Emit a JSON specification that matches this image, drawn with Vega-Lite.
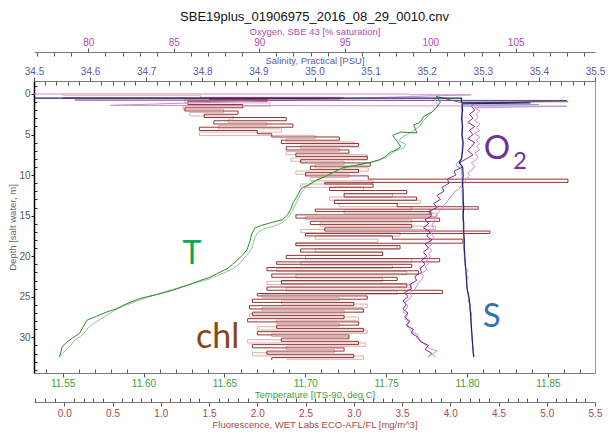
{
  "$schema": "https://vega.github.io/schema/vega-lite/v6.json",
  "width": 561,
  "height": 292,
  "autosize": {"type": "none"},
  "padding": {"left": 34, "top": 81, "right": 17, "bottom": 66},
  "background": "white",
  "title": {
    "text": "SBE19plus_01906975_2016_08_29_0010.cnv",
    "font": "Liberation Sans",
    "fontSize": 13,
    "fontWeight": "normal",
    "color": "#111111",
    "anchor": "middle",
    "offset": 2
  },
  "config": {
    "view": {"stroke": "#9a9a9a", "strokeWidth": 1},
    "axis": {
      "grid": false,
      "labelFont": "Liberation Sans",
      "labelFontSize": 10,
      "titleFont": "Liberation Sans",
      "titleFontSize": 9.5,
      "titleFontWeight": "normal",
      "domainColor": "#777777",
      "tickColor": "#555555",
      "labelOverlap": false,
      "labelFlush": false,
      "labelPadding": 1,
      "titlePadding": 1
    }
  },
  "datasets": {
    "sal_dn": [
      {"depth": 0.5, "sal": 34.2}, {"depth": 0.5, "sal": 35.262}, {"depth": 1.05, "sal": 35.262}, {"depth": 1.1, "sal": 35.385},
      {"depth": 1.2, "sal": 35.263}, {"depth": 2, "sal": 35.264}, {"depth": 3, "sal": 35.262}, {"depth": 4, "sal": 35.264},
      {"depth": 5, "sal": 35.263}, {"depth": 6, "sal": 35.265}, {"depth": 7, "sal": 35.264}, {"depth": 8, "sal": 35.262},
      {"depth": 8.5, "sal": 35.258}, {"depth": 9, "sal": 35.264}, {"depth": 10, "sal": 35.265}, {"depth": 11, "sal": 35.264},
      {"depth": 12, "sal": 35.265}, {"depth": 13, "sal": 35.265}, {"depth": 14, "sal": 35.266}, {"depth": 15, "sal": 35.265},
      {"depth": 16, "sal": 35.266}, {"depth": 17, "sal": 35.266}, {"depth": 18, "sal": 35.267}, {"depth": 19, "sal": 35.267},
      {"depth": 20, "sal": 35.268}, {"depth": 21, "sal": 35.269}, {"depth": 22, "sal": 35.27}, {"depth": 23, "sal": 35.271},
      {"depth": 24, "sal": 35.272}, {"depth": 25, "sal": 35.275}, {"depth": 26, "sal": 35.277}, {"depth": 27, "sal": 35.278},
      {"depth": 28, "sal": 35.279}, {"depth": 29, "sal": 35.28}, {"depth": 30, "sal": 35.281}, {"depth": 31, "sal": 35.282},
      {"depth": 32, "sal": 35.283}, {"depth": 32.4, "sal": 35.284}
    ],
    "sal_up": [
      {"depth": 32.4, "sal": 35.284}, {"depth": 31.5, "sal": 35.283}, {"depth": 30.5, "sal": 35.281}, {"depth": 29.5, "sal": 35.28},
      {"depth": 28.5, "sal": 35.279}, {"depth": 27.5, "sal": 35.279}, {"depth": 27, "sal": 35.28}, {"depth": 26.5, "sal": 35.276},
      {"depth": 26, "sal": 35.278}, {"depth": 25.5, "sal": 35.274}, {"depth": 25, "sal": 35.275}, {"depth": 24, "sal": 35.272},
      {"depth": 23, "sal": 35.271}, {"depth": 22.6, "sal": 35.274}, {"depth": 22.2, "sal": 35.27}, {"depth": 21.8, "sal": 35.273},
      {"depth": 21.4, "sal": 35.269}, {"depth": 21, "sal": 35.268}, {"depth": 20, "sal": 35.267}, {"depth": 19, "sal": 35.266},
      {"depth": 18, "sal": 35.266}, {"depth": 17, "sal": 35.265}, {"depth": 16, "sal": 35.265}, {"depth": 15, "sal": 35.264},
      {"depth": 14, "sal": 35.264}, {"depth": 13, "sal": 35.264}, {"depth": 12, "sal": 35.263}, {"depth": 11, "sal": 35.263},
      {"depth": 10, "sal": 35.263}, {"depth": 9.2, "sal": 35.262}, {"depth": 8.8, "sal": 35.252}, {"depth": 8.4, "sal": 35.255},
      {"depth": 8, "sal": 35.262}, {"depth": 7, "sal": 35.263}, {"depth": 6, "sal": 35.264}, {"depth": 5, "sal": 35.262},
      {"depth": 4, "sal": 35.263}, {"depth": 3, "sal": 35.264}, {"depth": 2, "sal": 35.262}, {"depth": 1.5, "sal": 35.263},
      {"depth": 1.3, "sal": 35.4}, {"depth": 1.25, "sal": 35.262}
    ],
    "oxy_dn": [
      {"depth": 0.75, "oxy": 79.2}, {"depth": 0.8, "oxy": 108.0}, {"depth": 1.2, "oxy": 102.6}, {"depth": 1.5, "oxy": 102.4},
      {"depth": 2, "oxy": 102.6}, {"depth": 2.5, "oxy": 102.3}, {"depth": 3, "oxy": 102.5}, {"depth": 3.5, "oxy": 102.2},
      {"depth": 4, "oxy": 102.6}, {"depth": 4.5, "oxy": 102.3}, {"depth": 5, "oxy": 102.5}, {"depth": 5.5, "oxy": 102.2},
      {"depth": 6, "oxy": 102.6}, {"depth": 6.5, "oxy": 102.4}, {"depth": 7, "oxy": 102.2}, {"depth": 7.5, "oxy": 102.5},
      {"depth": 8, "oxy": 102.1}, {"depth": 8.5, "oxy": 101.7}, {"depth": 9, "oxy": 101.9}, {"depth": 9.5, "oxy": 101.4},
      {"depth": 10, "oxy": 101.5}, {"depth": 10.5, "oxy": 101.0}, {"depth": 11, "oxy": 101.1}, {"depth": 11.5, "oxy": 100.7},
      {"depth": 12, "oxy": 100.8}, {"depth": 12.5, "oxy": 100.4}, {"depth": 13, "oxy": 100.6}, {"depth": 13.5, "oxy": 100.2},
      {"depth": 14, "oxy": 100.4}, {"depth": 14.5, "oxy": 99.9}, {"depth": 15, "oxy": 100.1}, {"depth": 15.5, "oxy": 99.7},
      {"depth": 16, "oxy": 99.9}, {"depth": 16.5, "oxy": 99.6}, {"depth": 17, "oxy": 100.0}, {"depth": 17.5, "oxy": 99.8},
      {"depth": 18, "oxy": 100.1}, {"depth": 18.5, "oxy": 99.7}, {"depth": 19, "oxy": 99.9}, {"depth": 19.5, "oxy": 99.6},
      {"depth": 20, "oxy": 99.8}, {"depth": 20.5, "oxy": 99.5}, {"depth": 21, "oxy": 99.7}, {"depth": 21.5, "oxy": 99.4},
      {"depth": 22, "oxy": 99.5}, {"depth": 22.5, "oxy": 99.1}, {"depth": 23, "oxy": 99.2}, {"depth": 23.5, "oxy": 98.8},
      {"depth": 24, "oxy": 98.9}, {"depth": 24.5, "oxy": 98.5}, {"depth": 25, "oxy": 98.7}, {"depth": 25.5, "oxy": 98.4},
      {"depth": 26, "oxy": 98.6}, {"depth": 26.5, "oxy": 98.4}, {"depth": 27, "oxy": 98.7}, {"depth": 27.5, "oxy": 98.5},
      {"depth": 28, "oxy": 98.8}, {"depth": 28.5, "oxy": 98.6}, {"depth": 29, "oxy": 99.0}, {"depth": 29.5, "oxy": 98.9},
      {"depth": 30, "oxy": 99.3}, {"depth": 30.5, "oxy": 99.4}, {"depth": 31, "oxy": 99.9}, {"depth": 31.5, "oxy": 99.7},
      {"depth": 32, "oxy": 100.1}, {"depth": 32.4, "oxy": 99.9}
    ],
    "oxy_up": [
      {"depth": 32.4, "oxy": 100.3}, {"depth": 32.1, "oxy": 100.1}, {"depth": 31.7, "oxy": 100.4}, {"depth": 31.3, "oxy": 99.9},
      {"depth": 30.9, "oxy": 99.7}, {"depth": 30.5, "oxy": 99.5}, {"depth": 30.1, "oxy": 99.2}, {"depth": 29.7, "oxy": 99.3},
      {"depth": 29.3, "oxy": 98.9}, {"depth": 28.9, "oxy": 98.8}, {"depth": 28.5, "oxy": 98.6}, {"depth": 28.1, "oxy": 98.8},
      {"depth": 27.7, "oxy": 98.5}, {"depth": 27.3, "oxy": 98.7}, {"depth": 26.9, "oxy": 98.4}, {"depth": 26.5, "oxy": 98.6},
      {"depth": 26.1, "oxy": 98.7}, {"depth": 25.7, "oxy": 98.5}, {"depth": 25.3, "oxy": 98.8}, {"depth": 24.9, "oxy": 98.9},
      {"depth": 24.5, "oxy": 98.8}, {"depth": 24.1, "oxy": 99.1}, {"depth": 23.7, "oxy": 99.2}, {"depth": 23.3, "oxy": 99.3},
      {"depth": 22.9, "oxy": 99.5}, {"depth": 22.5, "oxy": 99.6}, {"depth": 22.1, "oxy": 99.5}, {"depth": 21.7, "oxy": 99.8},
      {"depth": 21.3, "oxy": 99.7}, {"depth": 20.9, "oxy": 99.9}, {"depth": 20.5, "oxy": 99.8}, {"depth": 20.1, "oxy": 100.0},
      {"depth": 19.7, "oxy": 99.9}, {"depth": 19.3, "oxy": 100.1}, {"depth": 18.9, "oxy": 99.9}, {"depth": 18.5, "oxy": 100.1},
      {"depth": 18.1, "oxy": 100.0}, {"depth": 17.7, "oxy": 100.2}, {"depth": 17.3, "oxy": 100.1}, {"depth": 16.9, "oxy": 100.0},
      {"depth": 16.5, "oxy": 100.2}, {"depth": 16.1, "oxy": 100.1}, {"depth": 15.7, "oxy": 100.3}, {"depth": 15.3, "oxy": 100.2},
      {"depth": 14.9, "oxy": 100.4}, {"depth": 14.5, "oxy": 100.5}, {"depth": 14.1, "oxy": 100.7}, {"depth": 13.7, "oxy": 100.8},
      {"depth": 13.3, "oxy": 101.0}, {"depth": 12.9, "oxy": 101.1}, {"depth": 12.5, "oxy": 101.3}, {"depth": 12.1, "oxy": 101.4},
      {"depth": 11.7, "oxy": 101.7}, {"depth": 11.3, "oxy": 101.8}, {"depth": 10.9, "oxy": 102.0}, {"depth": 10.5, "oxy": 102.1},
      {"depth": 10.1, "oxy": 102.3}, {"depth": 9.7, "oxy": 102.2}, {"depth": 9.3, "oxy": 102.5}, {"depth": 8.9, "oxy": 102.6},
      {"depth": 8.5, "oxy": 102.4}, {"depth": 8.1, "oxy": 102.7}, {"depth": 7.7, "oxy": 102.8}, {"depth": 7.3, "oxy": 102.6},
      {"depth": 6.9, "oxy": 102.9}, {"depth": 6.5, "oxy": 102.7}, {"depth": 6.1, "oxy": 102.9}, {"depth": 5.7, "oxy": 102.7},
      {"depth": 5.3, "oxy": 102.9}, {"depth": 4.9, "oxy": 102.6}, {"depth": 4.5, "oxy": 102.9}, {"depth": 4.1, "oxy": 102.7},
      {"depth": 3.7, "oxy": 102.9}, {"depth": 3.3, "oxy": 102.6}, {"depth": 2.9, "oxy": 102.8}, {"depth": 2.5, "oxy": 102.7},
      {"depth": 2.1, "oxy": 102.9}, {"depth": 1.7, "oxy": 102.6}, {"depth": 1.5, "oxy": 108.0}, {"depth": 1.4, "oxy": 81.3},
      {"depth": 0.1, "oxy": 102.4}, {"depth": 0.1, "oxy": 98.8}, {"depth": 0.0, "oxy": 98.8}, {"depth": 0.0, "oxy": 76.0}
    ],
    "temp_dn": [
      {"depth": 0.95, "temp": 11.8625}, {"depth": 1.0, "temp": 11.795}, {"depth": 0.3, "temp": 11.781}, {"depth": 1.0, "temp": 11.7835},
      {"depth": 1.6, "temp": 11.7815}, {"depth": 2.2, "temp": 11.7785}, {"depth": 2.8, "temp": 11.773}, {"depth": 3.2, "temp": 11.772},
      {"depth": 3.6, "temp": 11.77}, {"depth": 3.8, "temp": 11.767}, {"depth": 4.3, "temp": 11.768}, {"depth": 4.8, "temp": 11.769},
      {"depth": 4.7, "temp": 11.759}, {"depth": 5.1, "temp": 11.754}, {"depth": 5.5, "temp": 11.7555}, {"depth": 5.9, "temp": 11.757},
      {"depth": 6.5, "temp": 11.759}, {"depth": 6.9, "temp": 11.756}, {"depth": 7.2, "temp": 11.7525}, {"depth": 7.8, "temp": 11.749},
      {"depth": 8.1, "temp": 11.746}, {"depth": 8.4, "temp": 11.741}, {"depth": 8.8, "temp": 11.731}, {"depth": 9.1, "temp": 11.723},
      {"depth": 9.4, "temp": 11.72}, {"depth": 9.7, "temp": 11.717}, {"depth": 10.2, "temp": 11.712}, {"depth": 10.6, "temp": 11.707},
      {"depth": 11.2, "temp": 11.702}, {"depth": 11.5, "temp": 11.699}, {"depth": 11.8, "temp": 11.697}, {"depth": 12.6, "temp": 11.695},
      {"depth": 13.4, "temp": 11.6925}, {"depth": 14.2, "temp": 11.691}, {"depth": 14.9, "temp": 11.689}, {"depth": 15.5, "temp": 11.686},
      {"depth": 15.8, "temp": 11.68}, {"depth": 16.2, "temp": 11.673}, {"depth": 16.5, "temp": 11.669}, {"depth": 17.2, "temp": 11.667},
      {"depth": 18.0, "temp": 11.666}, {"depth": 18.6, "temp": 11.665}, {"depth": 19.2, "temp": 11.664}, {"depth": 19.9, "temp": 11.661},
      {"depth": 20.5, "temp": 11.658}, {"depth": 21.0, "temp": 11.655}, {"depth": 21.5, "temp": 11.652}, {"depth": 22.2, "temp": 11.645},
      {"depth": 22.6, "temp": 11.641}, {"depth": 23.0, "temp": 11.635}, {"depth": 23.6, "temp": 11.627}, {"depth": 24.2, "temp": 11.618},
      {"depth": 24.7, "temp": 11.609}, {"depth": 25.2, "temp": 11.598}, {"depth": 25.6, "temp": 11.593}, {"depth": 26.0, "temp": 11.588},
      {"depth": 26.5, "temp": 11.583}, {"depth": 26.9, "temp": 11.577}, {"depth": 27.4, "temp": 11.571}, {"depth": 27.9, "temp": 11.565},
      {"depth": 28.6, "temp": 11.563}, {"depth": 29.5, "temp": 11.5605}, {"depth": 30.1, "temp": 11.556}, {"depth": 30.6, "temp": 11.5525},
      {"depth": 31.2, "temp": 11.5495}, {"depth": 31.8, "temp": 11.549}, {"depth": 32.4, "temp": 11.548}
    ],
    "temp_up": [
      {"depth": 32.4, "temp": 11.5485}, {"depth": 32.0, "temp": 11.55}, {"depth": 31.6, "temp": 11.552}, {"depth": 31.0, "temp": 11.555},
      {"depth": 30.4, "temp": 11.557}, {"depth": 29.9, "temp": 11.561}, {"depth": 29.3, "temp": 11.564}, {"depth": 28.8, "temp": 11.566},
      {"depth": 28.3, "temp": 11.569}, {"depth": 27.8, "temp": 11.573}, {"depth": 27.2, "temp": 11.578}, {"depth": 26.7, "temp": 11.582},
      {"depth": 26.2, "temp": 11.587}, {"depth": 25.6, "temp": 11.595}, {"depth": 25.0, "temp": 11.603}, {"depth": 24.4, "temp": 11.613},
      {"depth": 23.8, "temp": 11.623}, {"depth": 23.3, "temp": 11.632}, {"depth": 22.8, "temp": 11.641}, {"depth": 22.2, "temp": 11.648},
      {"depth": 21.6, "temp": 11.655}, {"depth": 21.0, "temp": 11.659}, {"depth": 20.3, "temp": 11.662}, {"depth": 19.6, "temp": 11.665},
      {"depth": 19.0, "temp": 11.667}, {"depth": 18.3, "temp": 11.668}, {"depth": 17.6, "temp": 11.669}, {"depth": 17.0, "temp": 11.671},
      {"depth": 16.6, "temp": 11.675}, {"depth": 16.2, "temp": 11.682}, {"depth": 15.7, "temp": 11.687}, {"depth": 15.1, "temp": 11.69},
      {"depth": 14.4, "temp": 11.692}, {"depth": 13.6, "temp": 11.694}, {"depth": 12.8, "temp": 11.696}, {"depth": 12.0, "temp": 11.698},
      {"depth": 11.4, "temp": 11.701}, {"depth": 10.9, "temp": 11.705}, {"depth": 10.3, "temp": 11.711}, {"depth": 9.8, "temp": 11.716},
      {"depth": 9.3, "temp": 11.722}, {"depth": 8.9, "temp": 11.729}, {"depth": 8.6, "temp": 11.737}, {"depth": 8.2, "temp": 11.745},
      {"depth": 7.7, "temp": 11.751}, {"depth": 7.1, "temp": 11.755}, {"depth": 6.6, "temp": 11.761}, {"depth": 6.2, "temp": 11.762},
      {"depth": 5.8, "temp": 11.758}, {"depth": 5.3, "temp": 11.76}, {"depth": 4.9, "temp": 11.764}, {"depth": 4.4, "temp": 11.768},
      {"depth": 3.9, "temp": 11.771}, {"depth": 3.3, "temp": 11.773}, {"depth": 2.7, "temp": 11.776}, {"depth": 2.1, "temp": 11.779},
      {"depth": 1.5, "temp": 11.782}, {"depth": 1.0, "temp": 11.781}, {"depth": 0.6, "temp": 11.78}, {"depth": 0.2, "temp": 11.782}
    ],
    "fl_dn": [
      {"depth": 0.5, "fl": -0.02}, {"depth": 0.55, "fl": 2.9}, {"depth": 0.65, "fl": 1.5}, {"depth": 0.9, "fl": 2.1},
      {"depth": 1.3, "fl": 1.28}, {"depth": 1.7, "fl": 1.85}, {"depth": 2.1, "fl": 1.25}, {"depth": 2.5, "fl": 1.8},
      {"depth": 2.9, "fl": 1.45}, {"depth": 3.3, "fl": 2.3}, {"depth": 3.7, "fl": 1.55}, {"depth": 4.1, "fl": 2.37},
      {"depth": 4.5, "fl": 1.4}, {"depth": 4.9, "fl": 2.0}, {"depth": 5.3, "fl": 2.15}, {"depth": 5.7, "fl": 2.85},
      {"depth": 6.1, "fl": 2.25}, {"depth": 6.5, "fl": 3.05}, {"depth": 6.9, "fl": 2.3}, {"depth": 7.3, "fl": 2.95},
      {"depth": 7.7, "fl": 2.4}, {"depth": 8.1, "fl": 3.14}, {"depth": 8.5, "fl": 2.45}, {"depth": 8.9, "fl": 3.17},
      {"depth": 9.3, "fl": 2.55}, {"depth": 9.7, "fl": 3.05}, {"depth": 10.1, "fl": 2.5}, {"depth": 10.5, "fl": 3.15},
      {"depth": 10.9, "fl": 5.22}, {"depth": 11.1, "fl": 2.7}, {"depth": 11.5, "fl": 3.2}, {"depth": 11.9, "fl": 2.75},
      {"depth": 12.3, "fl": 3.55}, {"depth": 12.7, "fl": 2.9}, {"depth": 13.1, "fl": 3.65}, {"depth": 13.5, "fl": 2.8},
      {"depth": 13.9, "fl": 3.45}, {"depth": 14.2, "fl": 4.29}, {"depth": 14.5, "fl": 2.6}, {"depth": 14.9, "fl": 3.8},
      {"depth": 15.3, "fl": 2.4}, {"depth": 15.7, "fl": 3.89}, {"depth": 16.1, "fl": 2.55}, {"depth": 16.5, "fl": 3.6},
      {"depth": 16.9, "fl": 2.7}, {"depth": 17.2, "fl": 4.41}, {"depth": 17.5, "fl": 2.5}, {"depth": 17.9, "fl": 3.4},
      {"depth": 18.4, "fl": 4.13}, {"depth": 18.7, "fl": 2.4}, {"depth": 19.1, "fl": 3.48}, {"depth": 19.5, "fl": 2.45},
      {"depth": 19.9, "fl": 3.3}, {"depth": 20.3, "fl": 2.3}, {"depth": 20.7, "fl": 3.89}, {"depth": 21.0, "fl": 2.2},
      {"depth": 21.4, "fl": 3.6}, {"depth": 21.8, "fl": 2.1}, {"depth": 22.2, "fl": 3.67}, {"depth": 22.6, "fl": 2.15},
      {"depth": 23.0, "fl": 3.45}, {"depth": 23.4, "fl": 2.25}, {"depth": 23.8, "fl": 3.55}, {"depth": 24.2, "fl": 2.1},
      {"depth": 24.6, "fl": 3.92}, {"depth": 24.9, "fl": 2.0}, {"depth": 25.3, "fl": 3.14}, {"depth": 25.7, "fl": 1.95},
      {"depth": 26.1, "fl": 3.0}, {"depth": 26.5, "fl": 1.92}, {"depth": 26.9, "fl": 3.1}, {"depth": 27.3, "fl": 1.95},
      {"depth": 27.7, "fl": 2.9}, {"depth": 28.1, "fl": 1.9}, {"depth": 28.5, "fl": 3.05}, {"depth": 28.9, "fl": 2.2},
      {"depth": 29.3, "fl": 3.1}, {"depth": 29.7, "fl": 2.0}, {"depth": 30.1, "fl": 2.95}, {"depth": 30.5, "fl": 2.25},
      {"depth": 30.9, "fl": 3.05}, {"depth": 31.3, "fl": 1.95}, {"depth": 31.7, "fl": 2.9}, {"depth": 32.1, "fl": 2.1},
      {"depth": 32.5, "fl": 3.0}, {"depth": 32.8, "fl": 2.15}
    ],
    "fl_up": [
      {"depth": 32.7, "fl": 2.3}, {"depth": 32.3, "fl": 3.1}, {"depth": 31.9, "fl": 1.95}, {"depth": 31.5, "fl": 2.8},
      {"depth": 31.1, "fl": 2.3}, {"depth": 30.7, "fl": 3.12}, {"depth": 30.3, "fl": 1.9}, {"depth": 29.9, "fl": 2.95},
      {"depth": 29.5, "fl": 2.15}, {"depth": 29.1, "fl": 3.14}, {"depth": 28.7, "fl": 2.0}, {"depth": 28.3, "fl": 2.85},
      {"depth": 27.9, "fl": 2.2}, {"depth": 27.5, "fl": 3.05}, {"depth": 27.1, "fl": 1.92}, {"depth": 26.7, "fl": 2.9},
      {"depth": 26.3, "fl": 2.05}, {"depth": 25.9, "fl": 3.14}, {"depth": 25.5, "fl": 2.25}, {"depth": 25.1, "fl": 2.85},
      {"depth": 24.7, "fl": 2.05}, {"depth": 24.3, "fl": 3.45}, {"depth": 23.9, "fl": 2.3}, {"depth": 23.5, "fl": 3.6},
      {"depth": 23.1, "fl": 2.1}, {"depth": 22.7, "fl": 3.3}, {"depth": 22.3, "fl": 2.4}, {"depth": 21.9, "fl": 3.55},
      {"depth": 21.5, "fl": 2.2}, {"depth": 21.1, "fl": 3.4}, {"depth": 20.7, "fl": 2.45}, {"depth": 20.3, "fl": 3.6},
      {"depth": 19.9, "fl": 2.5}, {"depth": 19.5, "fl": 3.3}, {"depth": 19.1, "fl": 2.6}, {"depth": 18.7, "fl": 3.45},
      {"depth": 18.3, "fl": 2.4}, {"depth": 17.9, "fl": 3.25}, {"depth": 17.5, "fl": 2.6}, {"depth": 17.1, "fl": 3.48},
      {"depth": 16.7, "fl": 2.45}, {"depth": 16.3, "fl": 3.85}, {"depth": 15.9, "fl": 2.65}, {"depth": 15.5, "fl": 3.6},
      {"depth": 15.1, "fl": 2.5}, {"depth": 14.7, "fl": 3.86}, {"depth": 14.3, "fl": 2.9}, {"depth": 13.9, "fl": 3.6},
      {"depth": 13.5, "fl": 2.85}, {"depth": 13.1, "fl": 3.69}, {"depth": 12.7, "fl": 2.75}, {"depth": 12.3, "fl": 3.4},
      {"depth": 11.9, "fl": 2.9}, {"depth": 11.5, "fl": 3.1}, {"depth": 11.1, "fl": 2.45}, {"depth": 10.7, "fl": 3.2},
      {"depth": 10.3, "fl": 2.55}, {"depth": 9.9, "fl": 2.95}, {"depth": 9.5, "fl": 2.4}, {"depth": 9.1, "fl": 3.15},
      {"depth": 8.7, "fl": 2.6}, {"depth": 8.3, "fl": 2.9}, {"depth": 7.9, "fl": 2.35}, {"depth": 7.5, "fl": 3.14},
      {"depth": 7.1, "fl": 2.3}, {"depth": 6.7, "fl": 2.85}, {"depth": 6.3, "fl": 2.45}, {"depth": 5.9, "fl": 3.0},
      {"depth": 5.5, "fl": 2.3}, {"depth": 5.1, "fl": 2.6}, {"depth": 4.7, "fl": 1.4}, {"depth": 4.3, "fl": 2.25},
      {"depth": 3.9, "fl": 1.6}, {"depth": 3.5, "fl": 2.1}, {"depth": 3.1, "fl": 1.7}, {"depth": 2.7, "fl": 1.75},
      {"depth": 2.3, "fl": 1.3}, {"depth": 1.9, "fl": 1.65}, {"depth": 1.5, "fl": 1.23}, {"depth": 1.1, "fl": 2.13},
      {"depth": 0.7, "fl": 1.25}, {"depth": 0.4, "fl": 2.86}, {"depth": 0.15, "fl": 1.41}, {"depth": 0.05, "fl": -0.02},
      {"depth": 0.0, "fl": -0.02}
    ]
  },
  "encoding": {
    "y": {
      "field": "depth",
      "type": "quantitative",
      "scale": {"domain": [-1.6, 34.4], "reverse": true, "nice": false, "zero": false},
      "axis": {
        "title": "Depth [salt water, m]",
        "titleColor": "#666666",
        "labelColor": "#555555",
        "domainColor": "#000000",
        "domainWidth": 1.5,
        "values": [-1, 0, 1, 2, 3, 4, 5, 6, 7, 8, 9, 10, 11, 12, 13, 14, 15, 16, 17, 18, 19, 20, 21, 22, 23, 24, 25, 26, 27, 28, 29, 30, 31, 32, 33, 34],
        "labelExpr": "datum.value % 5 === 0 ? format(datum.value, 'd') : ''",
        "tickSize": {"condition": {"test": "datum.value % 5 === 0", "value": 3}, "value": -3},
        "tickColor": "#222222"
      }
    }
  },
  "layer": [
    {
      "encoding": {
        "x": {
          "field": "fl",
          "type": "quantitative",
          "scale": {"domain": [-0.314, 5.5], "nice": false, "zero": false},
          "axis": {
            "orient": "bottom",
            "offset": 29,
            "title": "Fluorescence, WET Labs ECO-AFL/FL [mg/m^3]",
            "titleColor": "#a84848",
            "labelColor": "#a84848",
            "values": [-0.3, -0.2, -0.1, 0, 0.1, 0.2, 0.3, 0.4, 0.5, 0.6, 0.7, 0.8, 0.9, 1, 1.1, 1.2, 1.3, 1.4, 1.5, 1.6, 1.7, 1.8, 1.9, 2, 2.1, 2.2, 2.3, 2.4, 2.5, 2.6, 2.7, 2.8, 2.9, 3, 3.1, 3.2, 3.3, 3.4, 3.5, 3.6, 3.7, 3.8, 3.9, 4, 4.1, 4.2, 4.3, 4.4, 4.5, 4.6, 4.7, 4.8, 4.9, 5, 5.1, 5.2, 5.3, 5.4, 5.5],
            "labelExpr": "round(datum.value * 10) % 5 === 0 ? format(datum.value, '.1f') : ''",
            "tickSize": {"condition": {"test": "round(datum.value * 10) % 5 === 0", "value": 4}, "value": -4},
            "labelPadding": 2
          }
        }
      },
      "layer": [
        {
          "data": {"name": "fl_up"},
          "mark": {"type": "line", "interpolate": "step-after", "color": "#d8aeae", "strokeWidth": 1, "clip": true},
          "encoding": {"order": {"value": null}}
        },
        {
          "data": {"name": "fl_dn"},
          "mark": {"type": "line", "interpolate": "step-after", "color": "#8b1c1c", "strokeWidth": 0.9, "clip": true},
          "encoding": {"order": {"value": null}}
        },
        {
          "data": {"values": [{"label": "chl", "fl": 1.59, "depth": 31.3}]},
          "mark": {"type": "text", "font": "Lato", "fontSize": 34, "color": "#8c4516", "align": "center", "baseline": "alphabetic"},
          "encoding": {"text": {"field": "label"}}
        }
      ]
    },
    {
      "encoding": {
        "x": {
          "field": "oxy",
          "type": "quantitative",
          "scale": {"domain": [76.82, 109.64], "nice": false, "zero": false},
          "axis": {
            "orient": "top",
            "offset": 29,
            "title": "Oxygen, SBE 43 [% saturation]",
            "titleColor": "#b04cb0",
            "labelColor": "#b04cb0",
            "values": [77, 78, 79, 80, 81, 82, 83, 84, 85, 86, 87, 88, 89, 90, 91, 92, 93, 94, 95, 96, 97, 98, 99, 100, 101, 102, 103, 104, 105, 106, 107, 108, 109],
            "labelExpr": "datum.value % 5 === 0 ? format(datum.value, 'd') : ''",
            "tickSize": {"condition": {"test": "datum.value % 5 === 0", "value": 4}, "value": -4}
          }
        }
      },
      "layer": [
        {
          "data": {"name": "oxy_up"},
          "mark": {"type": "line", "color": "#cc8fcc", "strokeWidth": 1, "clip": true},
          "encoding": {"order": {"value": null}}
        },
        {
          "data": {"name": "oxy_dn"},
          "mark": {"type": "line", "color": "#862a8a", "strokeWidth": 1, "clip": true},
          "encoding": {"order": {"value": null}}
        },
        {
          "data": {"values": [{"label": "O", "oxy": 103.9, "depth": 8.0}]},
          "mark": {"type": "text", "font": "Lato", "fontSize": 33, "color": "#7030a0", "align": "center", "baseline": "alphabetic"},
          "encoding": {"text": {"field": "label"}}
        },
        {
          "data": {"values": [{"label": "2", "oxy": 105.25, "depth": 9.2}]},
          "mark": {"type": "text", "font": "Lato", "fontSize": 24, "color": "#7030a0", "align": "center", "baseline": "alphabetic"},
          "encoding": {"text": {"field": "label"}}
        }
      ]
    },
    {
      "encoding": {
        "x": {
          "field": "temp",
          "type": "quantitative",
          "scale": {"domain": [11.5323, 11.8791], "nice": false, "zero": false},
          "axis": {
            "orient": "bottom",
            "offset": 0,
            "title": "Temperature [ITS-90, deg C]",
            "titleColor": "#3ca03c",
            "labelColor": "#3ca03c",
            "values": [11.54, 11.55, 11.56, 11.57, 11.58, 11.59, 11.6, 11.61, 11.62, 11.63, 11.64, 11.65, 11.66, 11.67, 11.68, 11.69, 11.7, 11.71, 11.72, 11.73, 11.74, 11.75, 11.76, 11.77, 11.78, 11.79, 11.8, 11.81, 11.82, 11.83, 11.84, 11.85, 11.86, 11.87],
            "labelExpr": "round(datum.value * 100) % 5 === 0 ? format(datum.value, '.2f') : ''",
            "tickSize": {"condition": {"test": "round(datum.value * 100) % 5 === 0", "value": 4}, "value": -4}
          }
        }
      },
      "layer": [
        {
          "data": {"name": "temp_up"},
          "mark": {"type": "line", "color": "#8cc88c", "strokeWidth": 1, "clip": true},
          "encoding": {"order": {"value": null}}
        },
        {
          "data": {"name": "temp_dn"},
          "mark": {"type": "line", "color": "#2e8b2e", "strokeWidth": 1, "clip": true},
          "encoding": {"order": {"value": null}}
        },
        {
          "data": {"values": [{"label": "T", "temp": 11.63, "depth": 21.0}]},
          "mark": {"type": "text", "font": "Lato", "fontSize": 32, "color": "#00b050", "align": "center", "baseline": "alphabetic"},
          "encoding": {"text": {"field": "label"}}
        }
      ]
    },
    {
      "encoding": {
        "x": {
          "field": "sal",
          "type": "quantitative",
          "scale": {"domain": [34.5, 35.5], "nice": false, "zero": false},
          "axis": {
            "orient": "top",
            "offset": 0,
            "title": "Salinity, Practical [PSU]",
            "titleColor": "#5b5ba6",
            "labelColor": "#5b5ba6",
            "values": [34.5, 34.52, 34.54, 34.56, 34.58, 34.6, 34.62, 34.64, 34.66, 34.68, 34.7, 34.72, 34.74, 34.76, 34.78, 34.8, 34.82, 34.84, 34.86, 34.88, 34.9, 34.92, 34.94, 34.96, 34.98, 35.0, 35.02, 35.04, 35.06, 35.08, 35.1, 35.12, 35.14, 35.16, 35.18, 35.2, 35.22, 35.24, 35.26, 35.28, 35.3, 35.32, 35.34, 35.36, 35.38, 35.4, 35.42, 35.44, 35.46, 35.48, 35.5],
            "labelExpr": "abs(datum.value * 10 - round(datum.value * 10)) < 0.01 ? format(datum.value, '.1f') : ''",
            "tickSize": {"condition": {"test": "abs(datum.value * 10 - round(datum.value * 10)) < 0.01", "value": 4}, "value": -4}
          }
        }
      },
      "layer": [
        {
          "data": {"name": "sal_up"},
          "mark": {"type": "line", "color": "#9a9ad0", "strokeWidth": 1, "clip": true},
          "encoding": {"order": {"value": null}}
        },
        {
          "data": {"name": "sal_dn"},
          "mark": {"type": "line", "color": "#1f1f7a", "strokeWidth": 1.2, "clip": true},
          "encoding": {"order": {"value": null}}
        },
        {
          "data": {"values": [{"label": "S", "sal": 35.316, "depth": 28.7}]},
          "mark": {"type": "text", "font": "Lato", "fontSize": 33, "color": "#2e75b6", "align": "center", "baseline": "alphabetic"},
          "encoding": {"text": {"field": "label"}}
        }
      ]
    }
  ],
  "resolve": {"scale": {"x": "independent"}, "axis": {"x": "independent"}}
}
